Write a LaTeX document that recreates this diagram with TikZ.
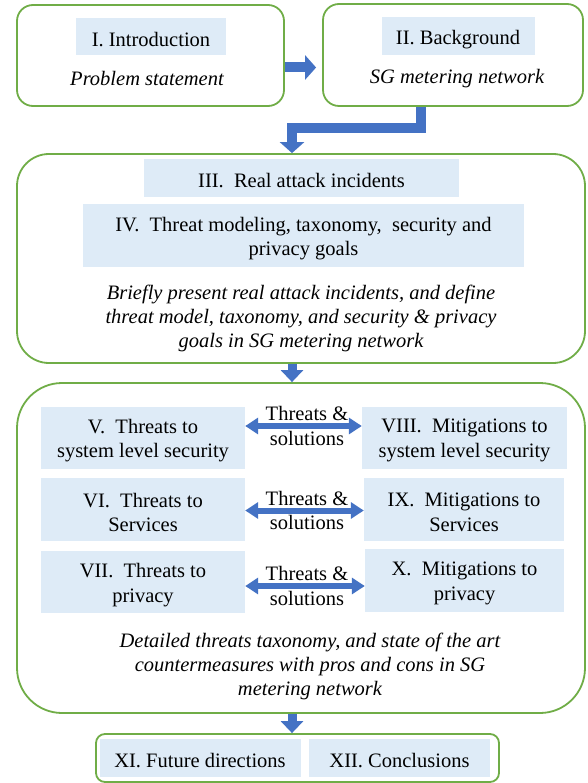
\documentclass[tikz,border=0pt]{standalone}
\usepackage{fontspec}
\setmainfont{Liberation Serif}
\usetikzlibrary{arrows.meta}
\definecolor{frgreen}{HTML}{70AD47}
\definecolor{lblue}{HTML}{DEEBF7}
\definecolor{ablue}{HTML}{4472C4}
\begin{document}
\begin{tikzpicture}[x=1pt,y=-1pt,
  every node/.style={font=\fontsize{20.5}{24.5}\selectfont, inner sep=0pt, align=center},
  frame/.style={draw=frgreen, line width=1.8pt, fill=white},
  sect/.style={fill=lblue},
  txt/.style={label={[yshift=-3pt]center:{#1}}},
  note/.style={font=\fontsize{20.5}{24}\selectfont\itshape},
  blockarrow/.style={draw=ablue, line width=10pt, line join=miter, -{Triangle[width=24pt,length=11pt]}},
  smallarrow/.style={draw=ablue, line width=9pt, -{Triangle[width=22pt,length=12pt]}},
  dblarrow/.style={draw=ablue, line width=6pt, {Triangle[width=16pt,length=13pt]}-{Triangle[width=16pt,length=13pt]}}
]
\useasboundingbox (0,0) rectangle (587,783);
% top boxes
\node[frame, rounded corners=16pt, minimum width=267pt, minimum height=101pt] (b1) at (150.5,55.5) {};
\node[frame, rounded corners=16pt, minimum width=260pt, minimum height=102pt] (b2) at (453,55) {};
\node[sect, minimum width=150pt, minimum height=37pt, txt={I. Introduction}] (s1) at (151,37) {};
\node[note] (n1) at (147,78) {Problem statement};
\node[sect, minimum width=153pt, minimum height=38pt, txt={II. Background}] (s2) at (458,36.5) {};
\node[note] (n2) at (457,79) {SG metering network};
% box 3
\node[frame, rounded corners=32pt, minimum width=568pt, minimum height=209pt] (b3) at (301,258.5) {};
\node[sect, minimum width=315pt, minimum height=38pt, txt={III.~ Real attack incidents}] (s3) at (301.5,178) {};
\node[sect, minimum width=441pt, minimum height=63pt, txt={IV.~ Threat modeling, taxonomy,~ security and\\privacy goals}] (s4) at (303.5,235.5) {};
\node[note] (n3) at (301,318) {Briefly present real attack incidents, and define\\threat model, taxonomy, and security \& privacy\\goals in SG metering network};
% box 4
\node[frame, rounded corners=45pt, minimum width=568pt, minimum height=330pt] (b4) at (301,548) {};
\node[sect, minimum width=204pt, minimum height=62pt, txt={V.~ Threats to\\system level security}] (s5) at (143,437.5) {};
\node[sect, minimum width=205pt, minimum height=62pt, txt={VIII.~ Mitigations to\\system level security}] (s8) at (464.5,437.5) {};
\node[sect, minimum width=204pt, minimum height=63pt, txt={VI.~ Threats to\\Services}] (s6) at (143,509.5) {};
\node[sect, minimum width=200pt, minimum height=63pt, txt={IX.~ Mitigations to\\Services}] (s9) at (464,509.5) {};
\node[sect, minimum width=204pt, minimum height=62pt, txt={VII.~ Threats to\\privacy}] (s7) at (143,582) {};
\node[sect, minimum width=199pt, minimum height=63pt, txt={X.~ Mitigations to\\privacy}] (s10) at (464.5,580.5) {};
\node (l1) at (307,426) {Threats \&\\solutions};
\node (l2) at (307,510.5) {Threats \&\\solutions};
\node (l3) at (307,586) {Threats \&\\solutions};
\node[note] (n4) at (310,666) {Detailed threats taxonomy, and state of the art\\countermeasures with pros and cons in SG\\metering network};
% box 5
\node[frame, rounded corners=9pt, minimum width=403pt, minimum height=48pt] (b5) at (297.5,758) {};
\node[sect, minimum width=201pt, minimum height=38pt, txt={XI. Future directions}] (s11) at (200,758) {};
\node[sect, minimum width=181pt, minimum height=38pt, txt={XII. Conclusions}] (s12) at (399.5,758) {};
% arrows
\draw[blockarrow, shorten >=6pt] ([yshift=-12pt]b1.east) -- ([yshift=-12pt]b1.east -| b2.west);
\coordinate (e1) at ([xshift=-32pt]b2.south);
\coordinate (e2) at ([xshift=-9pt]b3.north);
\draw[blockarrow] (e1) -- ([yshift=-21.5pt]e1) -| (e2);
\draw[smallarrow] (b3.south -| e2) -- (b4.north -| e2);
\draw[smallarrow] (b4.south -| e2) -- (b5.north -| e2);
\draw[dblarrow] (s5.east |- l1) -- (s8.west |- l1);
\draw[dblarrow] (s6.east |- l2) -- (s9.west |- l2);
\draw[dblarrow] (s7.east |- l3) -- (s10.west |- l3);
\end{tikzpicture}
\end{document}
